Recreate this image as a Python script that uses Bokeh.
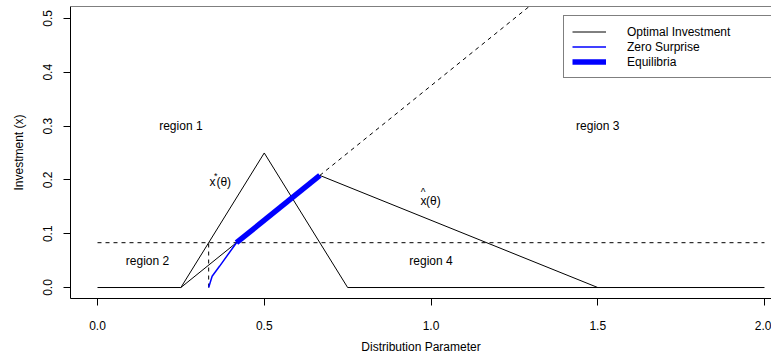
from bokeh.plotting import figure
from bokeh.models import (Range1d, FixedTicker, Legend, LegendItem, Span, Label)
from bokeh.core.properties import value
from bokeh.embed import file_html
from bokeh.resources import INLINE

# ---- data ----
x_ticks = [0.0, 0.5, 1.0, 1.5, 2.0]
x_tick_labels = ["0.0", "0.5", "1.0", "1.5", "2.0"]
y_ticks = [0.0, 0.1, 0.2, 0.3, 0.4, 0.5]
y_tick_labels = ["0.0", "0.1", "0.2", "0.3", "0.4", "0.5"]

# optimal investment x*(theta)
theta_star = [0.0, 0.25, 0.5, 0.75, 2.0]
x_star = [0.0, 0.0, 0.25, 0.0, 0.0]
# optimal investment x-hat(theta)
theta_hat = [0.25, 0.6667, 1.5]
x_hat = [0.0, 0.2083, 0.0]
# dashed continuation of the rising branch of x-hat
theta_ext = [0.6667, 1.35]
x_ext = [0.2083, 0.55]
# horizontal threshold
theta_thr = [0.0, 2.0]
x_thr = [0.0833, 0.0833]
# vertical dashed marker
theta_vert = [0.3333, 0.3333]
x_vert = [0.0, 0.0833]
# zero surprise
theta_zs = [0.3333, 0.3437, 0.3658, 0.4167]
x_zs = [0.0, 0.0209, 0.0394, 0.0833]
# equilibria
theta_eq = [0.4167, 0.6667]
x_eq = [0.0833, 0.2083]

region_names = ["region 1", "region 2", "region 3", "region 4"]
region_theta = [0.25, 0.15, 1.5, 1.0]
region_x = [0.30, 0.05, 0.30, 0.05]

FONT = "Liberation Sans"
Y_TOP = 0.5222

p = figure(width=771, height=356, output_backend="svg", toolbar_location=None,
           x_range=Range1d(-0.081, 2.021), y_range=Range1d(-0.0204, Y_TOP),
           min_border_left=70, min_border_right=0, min_border_top=6,
           min_border_bottom=57)
p.outline_line_color = None
p.xgrid.visible = False
p.ygrid.visible = False
p.background_fill_color = "white"
p.border_fill_color = "white"

for ax in (p.xaxis[0], p.yaxis[0]):
    ax.axis_line_color = "black"
    ax.major_tick_line_color = "black"
    ax.major_tick_out = 7
    ax.major_tick_in = 0
    ax.minor_tick_out = 0
    ax.minor_tick_in = 0
    ax.major_label_text_font = FONT
    ax.major_label_text_font_size = "12px"
    ax.major_label_text_color = "black"
    ax.axis_label_text_font = FONT
    ax.axis_label_text_font_size = "12px"
    ax.axis_label_text_font_style = "normal"
    ax.axis_label_text_color = "black"

p.xaxis[0].ticker = FixedTicker(ticks=x_ticks)
p.xaxis[0].major_label_overrides = dict(zip(x_ticks, x_tick_labels))
p.xaxis[0].axis_label = "Distribution Parameter"
p.xaxis[0].major_label_standoff = 15
p.xaxis[0].axis_label_standoff = 7

p.yaxis[0].ticker = FixedTicker(ticks=y_ticks)
p.yaxis[0].major_label_overrides = dict(zip(y_ticks, y_tick_labels))
p.yaxis[0].major_label_orientation = "vertical"
p.yaxis[0].axis_label = "Investment (x)"
p.yaxis[0].major_label_standoff = 11
p.yaxis[0].axis_label_standoff = 15

# top edge of the box
p.add_layout(Span(location=Y_TOP, dimension="width", line_color="black", line_width=1))

r_star = p.line(theta_star, x_star, line_color="black", line_width=1)
p.line(theta_hat, x_hat, line_color="black", line_width=1)
p.line(theta_ext, x_ext, line_color="black", line_width=1, line_dash="4 4")
p.line(theta_thr, x_thr, line_color="black", line_width=1, line_dash="4 4")
p.line(theta_vert, x_vert, line_color="black", line_width=1, line_dash="4 4")
r_zs = p.line(theta_zs, x_zs, line_color="blue", line_width=1.5)
r_eq = p.line(theta_eq, x_eq, line_color="blue", line_width=5.5)

p.text(x=region_theta, y=region_x, text=region_names, text_font=value(FONT),
       text_font_size="12px", text_align="center", text_baseline="middle",
       text_color="black")


def lab(xv, yv, txt, dx, dy, size="12px", align="left"):
    p.add_layout(Label(x=xv, y=yv, text=txt, x_offset=dx, y_offset=dy,
                       text_font=FONT, text_font_size=size, text_align=align,
                       text_baseline="middle", text_color="black"))


# x*(theta)
lab(0.37, 0.197, "x", -11.5, 0)
lab(0.37, 0.197, "*", -7, 6, size="9px")
lab(0.37, 0.197, "(\u03b8)", -4.5, 0)
# x-hat(theta)
lab(0.9985, 0.161, "x", -10, 0)
lab(0.9985, 0.161, "^", -7.5, 8, size="10px", align="center")
lab(0.9985, 0.161, "(\u03b8)", -4.5, 0)

legend = Legend(items=[
    LegendItem(label="Optimal Investment", renderers=[r_star]),
    LegendItem(label="Zero Surprise", renderers=[r_zs]),
    LegendItem(label="Equilibria", renderers=[r_eq]),
], location=(493, 220))
legend.label_text_font = FONT
legend.label_text_font_size = "12px"
legend.label_text_color = "black"
legend.border_line_color = "black"
legend.border_line_width = 1
legend.background_fill_color = "white"
legend.background_fill_alpha = 1.0
legend.padding = 8
legend.spacing = 0
legend.label_height = 15
legend.glyph_height = 15
legend.glyph_width = 34
legend.label_standoff = 21
legend.label_width = 138
legend.margin = 0
p.add_layout(legend)

open("out.html", "w").write(file_html(p, INLINE))
